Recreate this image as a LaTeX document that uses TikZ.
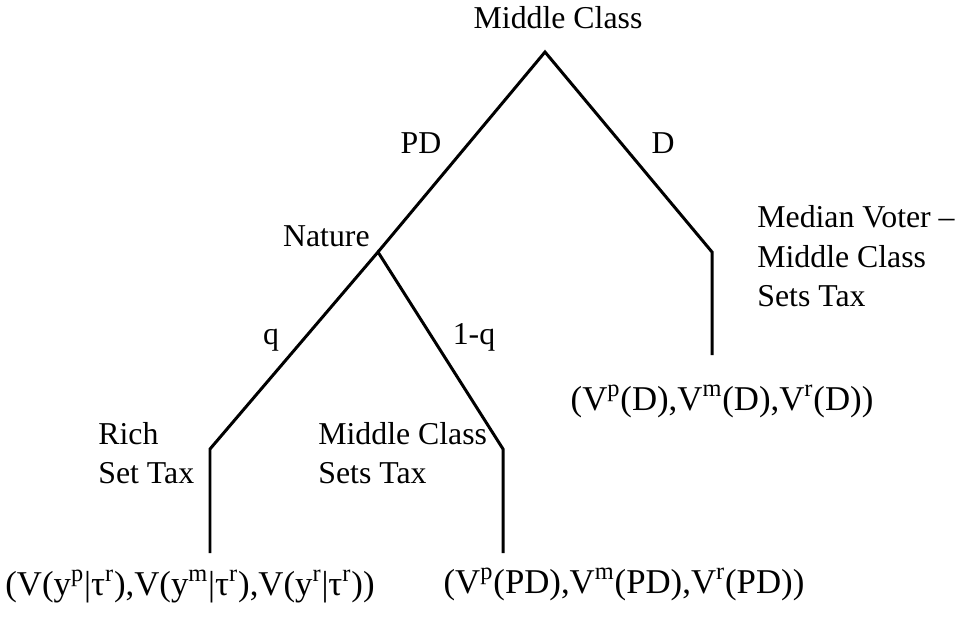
\documentclass[tikz,border=0pt]{standalone}
\usepackage{fontspec}
\setmainfont{Liberation Serif}
\usepackage{tikz}
\usetikzlibrary{positioning}
\newcommand{\sps}[1]{\textsuperscript{#1}}

\begin{document}
\begin{tikzpicture}[
        x=0.02cm, y=-0.02cm,
        branch/.style={line width=1.7pt, line join=miter},
        lbl/.style={inner sep=0pt, font=\fontsize{18.1}{22.2}\selectfont},
        info/.style={lbl, align=left, anchor=base west},
        payoff/.style={inner sep=0pt, anchor=base, font=\fontsize{19.8}{24}\selectfont}
    ]
        \useasboundingbox (0,0) rectangle (955,619);

        % decision points of the tree
        \coordinate (root) at (545,52);
        \coordinate (nature) at (378,252);
        \coordinate (dturn) at (712,252);
        \coordinate (dend) at (712,355);
        \coordinate (richturn) at (210,449);
        \coordinate (richend) at (210,553);
        \coordinate (midturn) at (503,449);
        \coordinate (midend) at (503,553);

        \draw[branch] (nature) -- (root) -- (dturn) -- (dend);
        \draw[branch] (richend) -- (richturn) -- (nature) -- (midturn) -- (midend);

        % move and branch labels
        \node[lbl, anchor=base] (mc) at (558,28) {Middle Class};
        \node[lbl, anchor=base] (pd) at (421,153) {PD};
        \node[lbl, anchor=base] (d) at (663,153) {D};
        \node[lbl, anchor=base east] (nat) at (370,246) {Nature};
        \node[lbl, anchor=base] (q) at (271,344) {q};
        \node[lbl, anchor=base] (oneq) at (474,344) {1-q};

        % who sets the tax (base anchor sits on the last line)
        \node[info] (median) at (757,306) {Median Voter –\\Middle Class\\Sets Tax};
        \node[info] (rich) at (98,483) {Rich\\Set Tax};
        \node[info] (midtax) at (318,483) {Middle Class\\Sets Tax};

        % payoffs
        \node[payoff] (payd) at (722,410) {(V\sps{p}(D),V\sps{m}(D),V\sps{r}(D))};
        \node[payoff] (payrich) at (190,595) {(V(y\sps{p}|τ\sps{r}),V(y\sps{m}|τ\sps{r}),V(y\sps{r}|τ\sps{r}))};
        \node[payoff] (paypd) at (624,593) {(V\sps{p}(PD),V\sps{m}(PD),V\sps{r}(PD))};
    \end{tikzpicture}
\end{document}
